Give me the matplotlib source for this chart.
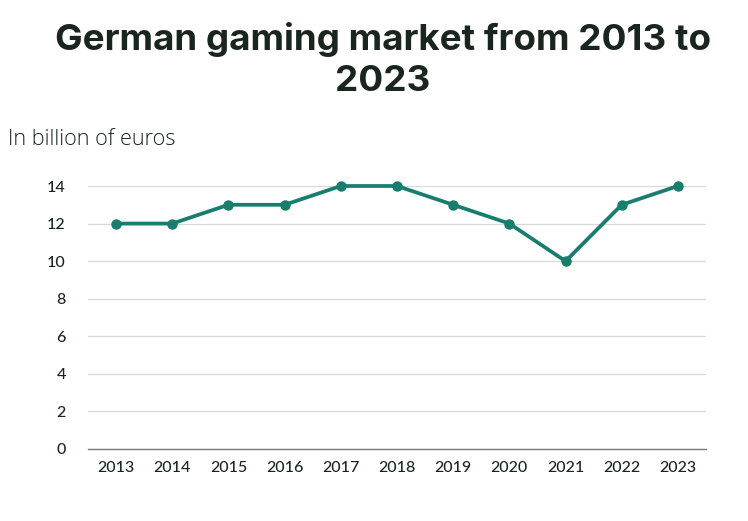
import matplotlib
matplotlib.use("Agg")
import matplotlib.pyplot as plt

years = [2013, 2014, 2015, 2016, 2017, 2018, 2019, 2020, 2021, 2022, 2023]
values = [12, 12, 13, 13, 14, 14, 13, 12, 10, 13, 14]
yticks = [0, 2, 4, 6, 8, 10, 12, 14]

title = "German gaming market from 2013 to\n2023"
subtitle = "In billion of euros"

line_color = "#187d6c"
text_color = "#1b2520"

fig = plt.figure(figsize=(7.48, 5.21), dpi=100)
ax = fig.add_axes([88/748, 1-449/521, (706-88)/748, (449-186)/521])

ax.plot(years, values, color=line_color, linewidth=2.7, marker="o", markersize=6.5, clip_on=False, zorder=3)
ax.set_xlim(2012.5, 2023.5)
ax.set_ylim(0, 14)
ax.set_yticks(yticks)
ax.set_xticks(years)
ax.set_xticklabels([str(y) for y in years])
ax.grid(axis="y", color="#d9d9d9", linewidth=0.9)
ax.set_axisbelow(True)
for s in ["top", "right", "left"]:
    ax.spines[s].set_visible(False)
ax.spines["bottom"].set_color("#7a7a7a")
ax.spines["bottom"].set_linewidth(1.0)
ax.tick_params(axis="both", length=0, labelsize=11.5, colors=text_color)
ax.tick_params(axis="x", pad=9)
ax.tick_params(axis="y", pad=16)
for lab in ax.get_xticklabels() + ax.get_yticklabels():
    lab.set_fontfamily("Lato")
    lab.set_fontweight("medium")

fig.text(0.512, 1-60/521, title, ha="center", va="center", fontsize=26.5, fontweight="bold",
         color=text_color, family="Inter", linespacing=1.32)
fig.text(8/748, 1-139/521, subtitle, ha="left", va="center", fontsize=15.6,
         color=text_color, family="Open Sans", fontweight="light")

fig.savefig("out.png", dpi=100)
